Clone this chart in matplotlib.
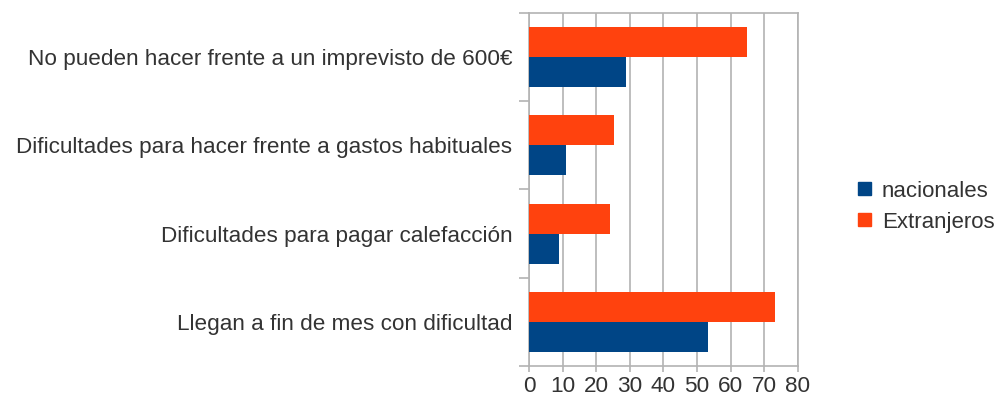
import matplotlib.pyplot as plt
import numpy as np
from matplotlib.patches import Patch

categories = ["Llegan a fin de mes con dificultad",
              "Dificultades para pagar calefacción",
              "Dificultades para hacer frente a gastos habituales",
              "No pueden hacer frente a un imprevisto de 600€"]
nacionales = [53.3, 9, 11, 29]
extranjeros = [73.3, 24, 25.3, 65]
xticks = [0, 10, 20, 30, 40, 50, 60, 70, 80]

blue = "#004586"
orange = "#ff420e"
grey = "#b3b3b3"
txt = "#333333"

plt.rcParams['font.family'] = ['Liberation Sans', 'DejaVu Sans']

fig = plt.figure(figsize=(9.97, 4.05), dpi=100)
ax = fig.add_axes([0.5306, 0.0963, 0.2695, 0.8717])

y = np.arange(len(categories))
h = 0.34
ax.barh(y - h / 2, nacionales, height=h, color=blue, zorder=3)
ax.barh(y + h / 2, extranjeros, height=h, color=orange, zorder=3)

ax.set_xlim(0, 80)
ax.set_ylim(-0.5, len(categories) - 0.5)
ax.set_xticks(xticks)
ax.set_xticklabels([str(v) for v in xticks])
ax.xaxis.grid(True, color=grey, linewidth=1.2, zorder=0)

ax.set_yticks(y)
ax.set_yticklabels(categories)
ax.set_yticks(np.arange(len(categories) + 1) - 0.5, minor=True)
ax.tick_params(axis='y', which='major', length=0, pad=12, labelsize=16.2, labelcolor=txt)
ax.tick_params(axis='y', which='minor', length=7, width=1.2, color=grey)
ax.tick_params(axis='x', length=4, width=1.2, color=grey, labelsize=16.2, labelcolor=txt, pad=3)

for s in ['left', 'bottom', 'top', 'right']:
    ax.spines[s].set_color(grey)
    ax.spines[s].set_linewidth(1.2)

handles = [Patch(color=blue, label="nacionales"), Patch(color=orange, label="Extranjeros")]
fig.legend(handles=handles, loc='center left', bbox_to_anchor=(0.852, 0.49),
           frameon=False, fontsize=16, labelcolor=txt, borderaxespad=0,
           handlelength=0.55, handleheight=0.55, handletextpad=0.5, labelspacing=0.45)

fig.savefig("out.png", dpi=100)
